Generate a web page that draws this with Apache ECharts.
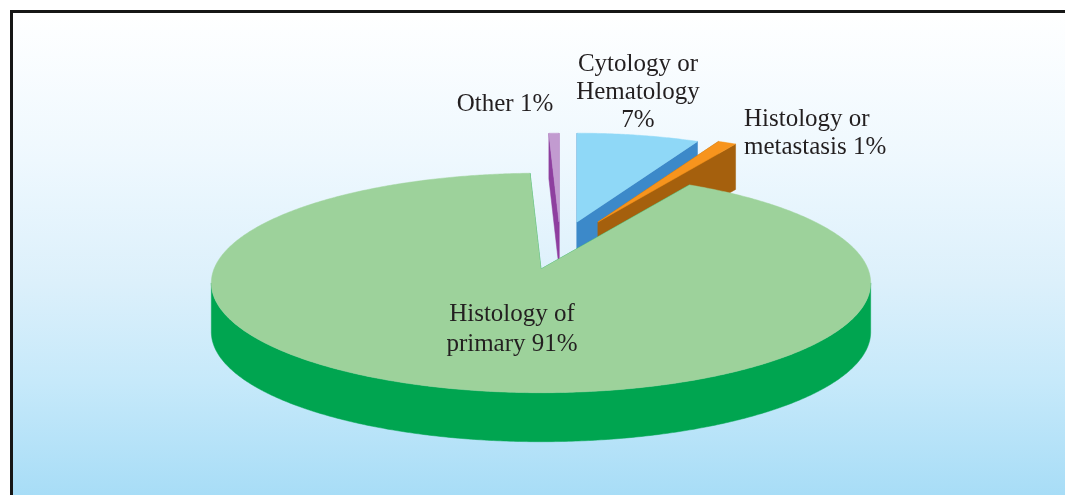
<!DOCTYPE html>
<html>
<head>
<meta charset="utf-8">
<title>Basis of diagnosis</title>
<script src="https://cdn.jsdelivr.net/npm/echarts@6/dist/echarts.min.js"></script>
<style>
    html, body { margin: 0; padding: 0; background: #fff; }
    #main { width: 1065px; height: 495px; }
</style>
</head>
<body>
<div id="main"></div>
<script>
    // slices, clockwise from 12 o'clock
    var categories = ['Other', 'Cytology or\nHematology', 'Histology or\nmetastasis', 'Histology of\nprimary'];
    var values = [0.6, 7.3, 1.1, 91.0];

    // layout / style
    var START_DEG = -2.16;
    var labelSep = [' ', '\n', ' ', ' '];
    // exploded slices: screen shift of the apex (px) and shrink for distance
    var explode = [[18, -47, 0.927], [36, -47, 0.927], [57, -47, 0.927], [0, 0, 1]];
    var labelPos = [[505, 104, 'center'], [638, 92, 'center'], [744, 133, 'left'], [512, 329, 'center']];
    var topColors = ['#c29bd0', '#8fd8f7', '#f7941d', '#9dd29b'];
    var sideColors = ['#8e3f9f', '#3c89c9', '#a5600d', '#00a550'];

    var CX = 541, CY = 269, RX = 327, RY = 108, K = 0.127, DEPTH = 49;
    var FRONT_FROM = Math.acos(-K) * 180 / Math.PI, FRONT_TO = 360 - FRONT_FROM;

    var total = values.reduce(function (s, v) { return s + v; }, 0);

    function renderSlice(params, api) {
        var i = params.dataIndex;
        var before = 0;
        for (var j = 0; j < i; j++) before += values[j];
        var a1 = START_DEG + before / total * 360;
        var a2 = a1 + api.value(0) / total * 360;
        var ex = explode[i];
        var depth = DEPTH * ex[2];

        function pt(r, deg, drop) {
            var t = deg * Math.PI / 180;
            var px = r * Math.sin(t), pz = r * Math.cos(t);
            var w = 1 + K * pz;
            return [CX + ex[0] + ex[2] * RX * px / w, CY + ex[1] - ex[2] * RY * pz / w + (drop || 0)];
        }
        function arc(d1, d2, drop) {
            var n = Math.max(2, Math.ceil((d2 - d1) / 0.5));
            var pts = [];
            for (var s = 0; s <= n; s++) pts.push(pt(1, d1 + (d2 - d1) * s / n, drop));
            return pts;
        }
        var side = { fill: sideColors[i], stroke: sideColors[i], lineWidth: 0.5 };
        var children = [];

        // outer wall, only the part facing us
        var f1 = Math.max(a1, FRONT_FROM), f2 = Math.min(a2, FRONT_TO);
        if (f2 > f1) {
            children.push({
                type: 'polygon', z2: i * 10,
                shape: { points: arc(f1, f2, 0).concat(arc(f1, f2, depth).reverse()) },
                style: side
            });
        }
        // radial walls
        [a1, a2].forEach(function (d) {
            children.push({
                type: 'polygon', z2: i * 10,
                shape: { points: [pt(0, d, 0), pt(1, d, 0), pt(1, d, depth), pt(0, d, depth)] },
                style: side
            });
        });
        // top face
        children.push({
            type: 'polygon', z2: i * 10 + 5,
            shape: { points: [pt(0, 0, 0)].concat(arc(a1, a2, 0)) },
            style: { fill: topColors[i], stroke: topColors[i], lineWidth: 0.5 }
        });
        // label
        var lp = labelPos[i];
        children.push({
            type: 'text', z2: 100,
            x: lp[0], y: lp[1],
            style: {
                text: categories[i] + labelSep[i] + Math.round(api.value(0)) + '%',
                fill: '#231f20',
                font: '25px "Liberation Serif", "DejaVu Serif", serif',
                align: lp[2],
                verticalAlign: 'middle',
                lineHeight: i === 3 ? 30 : 28
            }
        });
        return { type: 'group', children: children };
    }

    var myChart = echarts.init(document.getElementById('main'));
    var option = {
        animation: false,
        graphic: [{
            type: 'rect',
            silent: true,
            z: -10,
            shape: { x: 11.5, y: 11.5, width: 1100, height: 500 },
            style: {
                fill: new echarts.graphic.LinearGradient(0, 0, 0, 1, [
                    { offset: 0, color: '#ffffff' },
                    { offset: 0.3, color: '#eef8fe' },
                    { offset: 0.54, color: '#dcf0fb' },
                    { offset: 0.74, color: '#c6e9fa' },
                    { offset: 1, color: '#a3dbf6' }
                ]),
                stroke: '#161616',
                lineWidth: 3
            }
        }],
        series: [{
            type: 'custom',
            coordinateSystem: 'none',
            silent: true,
            renderItem: renderSlice,
            data: values.map(function (v, i) { return { name: categories[i], value: v }; })
        }]
    };
    myChart.setOption(option);
</script>
</body>
</html>
